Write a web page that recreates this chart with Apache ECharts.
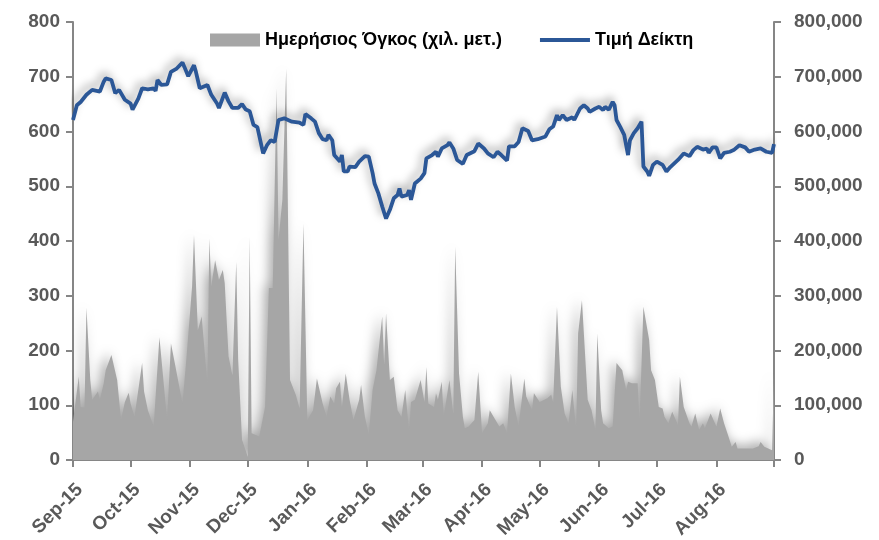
<!DOCTYPE html>
<html>
<head>
<meta charset="utf-8">
<script src="https://cdn.jsdelivr.net/npm/echarts@6/dist/echarts.min.js"></script>
<style>
  html, body { margin: 0; padding: 0; background: #fff; }
  #chart { width: 879px; height: 540px; }
</style>
</head>
<body>
<div id="chart"></div>
<script>
// Τιμή Δείκτη (αριστερός άξονας)
const indexDates = [
  '2015-09-01','2015-09-03','2015-09-05','2015-09-08','2015-09-11','2015-09-15','2015-09-17','2015-09-18','2015-09-21','2015-09-23','2015-09-25','2015-09-28',
  '2015-10-01','2015-10-02','2015-10-05','2015-10-07','2015-10-10','2015-10-13','2015-10-14','2015-10-15','2015-10-17','2015-10-20','2015-10-22','2015-10-25','2015-10-28','2015-10-29','2015-10-31',
  '2015-11-03','2015-11-04','2015-11-06','2015-11-10','2015-11-12','2015-11-15','2015-11-16','2015-11-19','2015-11-21','2015-11-23','2015-11-26','2015-11-28','2015-11-30',
  '2015-12-02','2015-12-04','2015-12-06','2015-12-09','2015-12-11','2015-12-13','2015-12-15','2015-12-17','2015-12-20','2015-12-24','2015-12-28','2015-12-30','2015-12-31',
  '2016-01-03','2016-01-05','2016-01-07','2016-01-09','2016-01-11','2016-01-12','2016-01-14','2016-01-15','2016-01-18','2016-01-19','2016-01-20','2016-01-22','2016-01-23','2016-01-26','2016-01-28','2016-01-29','2016-01-31',
  '2016-02-02','2016-02-04','2016-02-05','2016-02-07','2016-02-09','2016-02-11','2016-02-13','2016-02-15','2016-02-17','2016-02-18','2016-02-19','2016-02-22','2016-02-23','2016-02-24','2016-02-26','2016-02-29',
  '2016-03-02','2016-03-03','2016-03-06','2016-03-08','2016-03-09','2016-03-11','2016-03-14','2016-03-15','2016-03-17','2016-03-19','2016-03-22','2016-03-24','2016-03-28','2016-03-30',
  '2016-04-02','2016-04-04','2016-04-07','2016-04-09','2016-04-11','2016-04-14','2016-04-15','2016-04-18','2016-04-20','2016-04-22','2016-04-25','2016-04-27','2016-04-30',
  '2016-05-04','2016-05-06','2016-05-08','2016-05-10','2016-05-11','2016-05-13','2016-05-15','2016-05-18','2016-05-19','2016-05-22','2016-05-24','2016-05-26','2016-05-27','2016-05-30',
  '2016-06-01','2016-06-03','2016-06-04','2016-06-06','2016-06-08','2016-06-09','2016-06-10','2016-06-12','2016-06-14','2016-06-15','2016-06-16','2016-06-17','2016-06-19','2016-06-21','2016-06-23','2016-06-24','2016-06-26','2016-06-27','2016-06-29',
  '2016-07-01','2016-07-04','2016-07-06','2016-07-08','2016-07-12','2016-07-15','2016-07-18','2016-07-20','2016-07-22','2016-07-25','2016-07-27','2016-07-28','2016-07-30',
  '2016-08-01','2016-08-03','2016-08-05','2016-08-08','2016-08-10','2016-08-13','2016-08-16','2016-08-18','2016-08-21','2016-08-24','2016-08-27','2016-08-30','2016-08-31'
];
const indexValues = [
  621,648,654,667,676,673,691,697,694,670,676,658,
  651,640,660,679,677,679,674,694,685,686,709,715,726,718,701,
  721,709,679,685,667,651,643,671,655,643,643,650,640,
  637,612,608,560,575,584,581,621,624,618,616,612,632,
  624,618,597,586,584,594,584,557,545,557,527,527,536,535,545,542,555,
  554,524,505,487,463,441,457,478,484,496,481,484,493,475,505,514,
  524,551,557,563,554,569,575,580,569,548,541,557,564,578,
  569,560,553,563,557,547,573,573,581,606,601,584,586,
  591,604,609,630,621,630,621,626,621,642,648,642,636,642,
  645,639,645,640,654,648,621,608,594,591,557,584,597,606,618,536,527,519,539,
  545,539,527,535,548,560,555,566,572,567,569,561,571,
  571,551,561,563,566,575,571,563,567,569,563,561,577
];

// Ημερήσιος Όγκος (δεξιός άξονας)
const volumeDates = [
  '2015-09-01','2015-09-04','2015-09-05','2015-09-07','2015-09-08','2015-09-10','2015-09-11','2015-09-14','2015-09-15','2015-09-17','2015-09-18','2015-09-21','2015-09-24','2015-09-26','2015-09-28','2015-09-30',
  '2015-10-01','2015-10-03','2015-10-07','2015-10-08','2015-10-10','2015-10-13','2015-10-16','2015-10-20','2015-10-22','2015-10-24','2015-10-28','2015-10-30',
  '2015-11-02','2015-11-03','2015-11-05','2015-11-07','2015-11-10','2015-11-11','2015-11-12','2015-11-14','2015-11-16','2015-11-18','2015-11-19','2015-11-21','2015-11-23','2015-11-25','2015-11-26','2015-11-27','2015-11-28',
  '2015-12-01','2015-12-02','2015-12-03','2015-12-07','2015-12-10','2015-12-12','2015-12-14','2015-12-16','2015-12-17','2015-12-19','2015-12-21','2015-12-23','2015-12-26','2015-12-28','2015-12-30',
  '2016-01-01','2016-01-04','2016-01-06','2016-01-07','2016-01-09','2016-01-11','2016-01-13','2016-01-15','2016-01-16','2016-01-18','2016-01-19','2016-01-21','2016-01-23','2016-01-25','2016-01-28','2016-01-29','2016-01-31',
  '2016-02-02','2016-02-04','2016-02-06','2016-02-09','2016-02-10','2016-02-11','2016-02-13','2016-02-15','2016-02-17','2016-02-19','2016-02-21','2016-02-23','2016-02-24','2016-02-26','2016-02-29',
  '2016-03-02','2016-03-03','2016-03-04','2016-03-07','2016-03-08','2016-03-09','2016-03-11','2016-03-12','2016-03-15','2016-03-17','2016-03-18','2016-03-20','2016-03-22','2016-03-23','2016-03-25','2016-03-28','2016-03-30',
  '2016-04-01','2016-04-04','2016-04-05','2016-04-07','2016-04-08','2016-04-10','2016-04-12','2016-04-14','2016-04-16','2016-04-18','2016-04-20','2016-04-23','2016-04-24','2016-04-27','2016-04-28',
  '2016-05-01','2016-05-05','2016-05-07','2016-05-08','2016-05-10','2016-05-12','2016-05-14','2016-05-16','2016-05-18','2016-05-20','2016-05-21','2016-05-23','2016-05-26','2016-05-28','2016-05-30','2016-05-31',
  '2016-06-02','2016-06-03','2016-06-06','2016-06-08','2016-06-10','2016-06-13','2016-06-15','2016-06-16','2016-06-18','2016-06-21','2016-06-22','2016-06-24','2016-06-27','2016-06-28','2016-06-30',
  '2016-07-02','2016-07-04','2016-07-05','2016-07-07','2016-07-09','2016-07-12','2016-07-13','2016-07-15','2016-07-18','2016-07-19','2016-07-21','2016-07-23','2016-07-25','2016-07-26','2016-07-29',
  '2016-08-01','2016-08-03','2016-08-05','2016-08-07','2016-08-09','2016-08-11','2016-08-12','2016-08-16','2016-08-20','2016-08-23','2016-08-24','2016-08-26','2016-08-28','2016-08-30','2016-08-31'
];
const volumeValues = [
  70000,152000,97000,96000,278000,146000,110000,125000,110000,140000,164000,192000,146000,73000,106000,123000,
  103000,79000,177000,125000,91000,61000,224000,73000,213000,177000,103000,183000,
  317000,411000,237000,262000,137000,405000,317000,365000,329000,347000,323000,189000,155000,362000,183000,186000,37000,
  6000,408000,49000,43000,97000,314000,314000,679000,402000,475000,715000,146000,119000,94000,432000,
  73000,91000,149000,152000,103000,79000,116000,103000,131000,143000,97000,158000,110000,73000,110000,137000,79000,
  46000,128000,164000,262000,175000,268000,146000,152000,91000,79000,128000,52000,106000,110000,146000,
  106000,170000,103000,97000,122000,110000,143000,79000,146000,85000,390000,158000,79000,58000,61000,73000,161000,
  49000,67000,91000,79000,79000,61000,67000,49000,158000,97000,61000,149000,116000,91000,122000,
  106000,113000,119000,106000,280000,134000,85000,67000,128000,55000,231000,292000,110000,91000,55000,231000,
  91000,67000,58000,61000,177000,164000,128000,143000,140000,140000,67000,280000,219000,164000,146000,
  97000,94000,79000,67000,88000,64000,152000,97000,67000,61000,85000,55000,67000,58000,85000,
  61000,94000,67000,46000,24000,33000,21000,21000,21000,25000,33000,24000,21000,18000,160000
];

// x-axis ticks (month starts) and axis end
const monthTicks = ['2015-09-01','2015-10-01','2015-11-01','2015-12-01','2016-01-01','2016-02-01','2016-03-01','2016-04-01','2016-05-01','2016-06-01','2016-07-01','2016-08-01'];
const axisStart = '2015-09-01';
const axisEnd = '2016-08-31';
const monthNames = ['Jan','Feb','Mar','Apr','May','Jun','Jul','Aug','Sep','Oct','Nov','Dec'];

function toTs(s) {
  const p = s.split('-').map(Number);
  return new Date(p[0], p[1] - 1, p[2]).getTime();
}
function withCommas(v) {
  return String(v).replace(/\B(?=(\d{3})+(?!\d))/g, ',');
}

const FONT = '"Liberation Sans", Arial, sans-serif';
const AXIS_COLOR = '#868686';
const LABEL_COLOR = '#595959';

const chart = echarts.init(document.getElementById('chart'));

const option = {
  backgroundColor: '#fff',
  animation: false,
  grid: { left: 73, right: 105, top: 22, bottom: 80, outerBoundsMode: 'none' },
  legend: {
    left: 205,
    top: 26,
    itemWidth: 50,
    itemHeight: 13,
    itemGap: 38,
    textStyle: { color: '#000', fontSize: 18, fontWeight: 'bold', fontFamily: FONT },
    data: [
      { name: 'Ημερήσιος Όγκος (χιλ. μετ.)', icon: 'rect' },
      { name: 'Τιμή Δείκτη', icon: 'path://M0,0H50V4H0Z' }
    ]
  },
  xAxis: {
    // dates as timestamps on a value axis so the month ticks can be placed exactly
    type: 'value',
    min: toTs(axisStart),
    max: toTs(axisEnd),
    axisLine: { lineStyle: { color: AXIS_COLOR, width: 2 } },
    axisTick: {
      show: true,
      length: 7,
      lineStyle: { color: AXIS_COLOR, width: 2 },
      customValues: monthTicks.map(toTs).concat([toTs(axisEnd)])
    },
    axisLabel: {
      rotate: 45,
      margin: 20,
      verticalAlign: 'top',
      color: LABEL_COLOR,
      fontSize: 19,
      fontWeight: 'bold',
      fontFamily: FONT,
      customValues: monthTicks.map(toTs),
      formatter: function (v) {
        const d = new Date(v);
        return monthNames[d.getMonth()] + '-' + String(d.getFullYear()).slice(2);
      }
    },
    splitLine: { show: false }
  },
  yAxis: [
    {
      type: 'value',
      min: 0,
      max: 800,
      interval: 100,
      axisLine: { show: true, lineStyle: { color: AXIS_COLOR, width: 2 } },
      axisTick: { show: true, length: 7, lineStyle: { color: AXIS_COLOR, width: 2 } },
      axisLabel: { color: LABEL_COLOR, fontSize: 19, fontWeight: 'bold', fontFamily: FONT, margin: 13 },
      splitLine: { show: false }
    },
    {
      type: 'value',
      min: 0,
      max: 800000,
      interval: 100000,
      position: 'right',
      axisLine: { show: true, lineStyle: { color: AXIS_COLOR, width: 2 } },
      axisTick: { show: true, length: 7, lineStyle: { color: AXIS_COLOR, width: 2 } },
      axisLabel: { color: LABEL_COLOR, fontSize: 19, fontWeight: 'bold', fontFamily: FONT, margin: 20, formatter: withCommas },
      splitLine: { show: false }
    }
  ],
  series: [
    {
      name: 'Ημερήσιος Όγκος (χιλ. μετ.)',
      type: 'line',
      yAxisIndex: 1,
      showSymbol: false,
      symbol: 'none',
      itemStyle: { color: '#a6a6a6' },
      lineStyle: { width: 0 },
      areaStyle: {
        color: '#a6a6a6',
        opacity: 1,
        shadowColor: 'rgba(0,0,0,0.35)',
        shadowBlur: 12,
        shadowOffsetX: -4,
        shadowOffsetY: -3
      },
      data: volumeDates.map((d, i) => [toTs(d), volumeValues[i]])
    },
    {
      name: 'Τιμή Δείκτη',
      type: 'line',
      yAxisIndex: 0,
      showSymbol: false,
      symbol: 'none',
      itemStyle: { color: '#2b5797' },
      lineStyle: {
        color: '#2b5797',
        width: 3.8,
        shadowColor: 'rgba(0,0,0,0.35)',
        shadowBlur: 8,
        shadowOffsetX: -3,
        shadowOffsetY: -4
      },
      data: indexDates.map((d, i) => [toTs(d), indexValues[i]])
    }
  ]
};

chart.setOption(option);
window.addEventListener('resize', () => chart.resize());
</script>
</body>
</html>
